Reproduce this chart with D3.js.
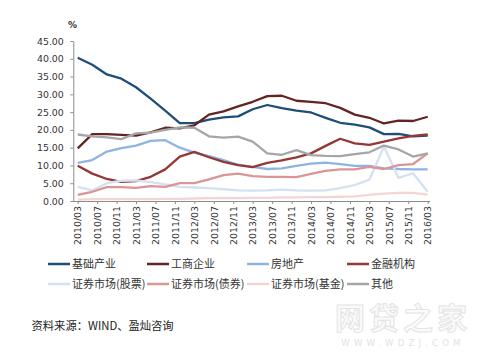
<!DOCTYPE html>
<html><head><meta charset="utf-8">
<script src="https://cdn.jsdelivr.net/npm/d3@7/dist/d3.min.js"></script>
<style>
html,body{margin:0;padding:0;background:#fff;}
svg{display:block;}
</style></head>
<body><svg id="c" width="500" height="358"></svg>
<script>
// quarterly observations, month offsets from 2010/03
const months = d3.range(0, 73, 3);
const tickMonths = d3.range(0, 73, 4);
const tickLabels = ["2010/03","2010/07","2010/11","2011/03","2011/07","2011/11","2012/03","2012/07","2012/11","2013/03","2013/07","2013/11","2014/03","2014/07","2014/11","2015/03","2015/07","2015/11","2016/03"];
const yTicks = [0,5,10,15,20,25,30,35,40,45];

const seriesNames = ["基础产业","工商企业","房地产","金融机构","证券市场(股票)","证券市场(债券)","证券市场(基金)","其他"];
const seriesColors = ["#1f4e79","#632523","#8eb4e3","#953735","#d3e1f2","#d99694","#f2d6d5","#a6a6a6"];

const infra   = [40.3,38.3,35.6,34.4,32.0,28.8,25.4,21.9,21.9,22.9,23.5,23.8,25.8,27.0,26.1,25.4,24.9,23.4,22.0,21.5,20.7,18.8,18.9,18.2,18.4];
const corp    = [14.8,18.8,18.8,18.6,18.4,19.3,20.6,20.4,21.3,24.3,25.2,26.6,27.9,29.5,29.6,28.2,27.9,27.5,26.2,24.3,23.4,21.8,22.6,22.5,23.7];
const estate  = [10.7,11.5,13.9,14.9,15.6,16.9,17.1,15.0,13.6,12.6,11.5,10.2,9.6,9.0,9.2,9.9,10.5,10.8,10.4,9.9,9.9,9.2,9.0,8.9,8.9];
const finance = [9.9,7.7,6.2,5.4,5.6,6.8,8.9,12.5,13.8,12.3,11.0,10.1,9.5,10.7,11.4,12.3,13.4,15.5,17.5,16.2,15.8,16.7,17.6,18.3,18.7];
const stocks  = [4.0,3.0,5.0,5.7,5.8,5.3,4.7,4.0,3.8,3.6,3.3,3.0,2.9,3.0,3.2,3.0,2.9,3.0,3.6,4.5,6.0,15.3,6.5,7.8,2.6];
const bonds   = [1.7,2.6,3.9,3.9,3.7,4.2,4.0,5.0,5.0,6.1,7.3,7.7,7.0,6.8,6.8,6.7,7.6,8.5,8.9,8.9,9.6,9.0,10.1,10.4,13.4];
const funds   = [0.4,0.5,0.5,0.5,0.5,0.5,0.6,0.6,0.7,0.8,0.8,0.8,0.9,0.9,1.0,1.0,1.1,1.1,1.2,1.3,1.7,2.1,2.3,2.3,1.8];
const others  = [18.7,18.2,17.9,17.4,19.0,19.2,20.0,20.7,20.6,18.2,17.8,18.1,16.7,13.4,13.0,14.3,12.9,12.7,12.6,13.2,13.7,15.6,14.5,12.5,13.4];
const seriesValues = [infra, corp, estate, finance, stocks, bonds, funds, others];

const svg = d3.select("#c");
const x = d3.scaleLinear().domain([0,72]).range([77.7,427.7]);
const y = d3.scaleLinear().domain([0,45]).range([201,41]);
const numFont = "'DejaVu Sans', Verdana, sans-serif";
const cjkFont = "'Noto Sans CJK SC', sans-serif";

// watermark
const wm = svg.append("g").attr("class","watermark");
wm.append("text").attr("x",403).attr("y",329).attr("text-anchor","middle")
  .attr("font-family",cjkFont).attr("font-size",30).attr("font-weight","bold")
  .attr("letter-spacing",4)
  .attr("fill","#fbfbfb").attr("stroke","#e4e4e4").attr("stroke-width",1)
  .text("网贷之家");
wm.append("text").attr("x",403).attr("y",346).attr("text-anchor","middle")
  .attr("font-family",numFont).attr("font-size",8.5).attr("letter-spacing",4.2)
  .attr("fill","#e2e2e2").text("WWW.WDZJ.COM");

// y axis
const yAxis = svg.append("g").attr("transform","translate(73.3,0)")
  .call(d3.axisLeft(y).tickValues(yTicks).tickSize(3).tickSizeOuter(0).tickFormat(d3.format(".2f")));
yAxis.select(".domain").attr("stroke","#8c8c8c");
yAxis.selectAll(".tick line").attr("stroke","#8c8c8c");
yAxis.selectAll(".tick text").attr("x",-9.5).attr("font-family",numFont).attr("font-size",9.4).attr("fill","#333");

svg.append("text").attr("x",72.5).attr("y",28).attr("text-anchor","middle")
  .attr("font-family",numFont).attr("font-size",9).attr("font-weight","bold").attr("fill","#333").text("%");

// x axis
const xAxis = svg.append("g").attr("transform","translate(0,201)")
  .call(d3.axisBottom(x).tickValues(tickMonths).tickSize(3).tickSizeOuter(0).tickFormat((d,i)=>tickLabels[i]));
xAxis.select(".domain").attr("stroke","#8c8c8c").attr("d","M73.3,0.5H430");
xAxis.selectAll(".tick line").attr("stroke","#8c8c8c");
xAxis.selectAll(".tick text")
  .attr("transform","rotate(-90)").attr("text-anchor","end")
  .attr("x",-5).attr("y",0).attr("dy","0.35em")
  .attr("font-family",numFont).attr("font-size",9.4).attr("fill","#333");

// lines
const line = d3.line().x((d,i)=>x(months[i])).y(d=>y(d));
seriesValues.forEach((vals,k)=>{
  svg.append("path").datum(vals).attr("d",line)
    .attr("fill","none").attr("stroke",seriesColors[k]).attr("stroke-width",2.3)
    .attr("stroke-linejoin","round");
});

// legend
const legX = [48,147,247,347];
const legY = [264,284];
seriesNames.forEach((name,k)=>{
  const lx = legX[k%4], ly = legY[Math.floor(k/4)];
  svg.append("line").attr("x1",lx).attr("x2",lx+22).attr("y1",ly).attr("y2",ly)
    .attr("stroke",seriesColors[k]).attr("stroke-width",2.5);
  svg.append("text").attr("x",lx+24).attr("y",ly).attr("dy","0.36em")
    .attr("font-family",cjkFont).attr("font-size",11).attr("fill","#333").text(name);
});

// source
svg.append("text").attr("x",31.5).attr("y",330)
  .attr("font-family",cjkFont).attr("font-size",11.3).attr("fill","#222")
  .text("资料来源：WIND、盈灿咨询");
</script></body></html>
